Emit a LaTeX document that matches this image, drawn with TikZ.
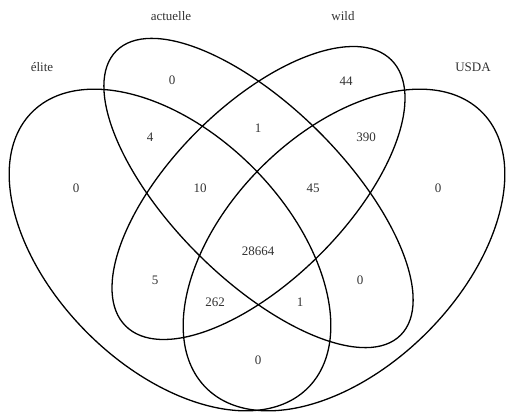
\documentclass[tikz,border=0pt]{standalone}
\usepackage{fontspec}
\setmainfont{Liberation Serif}
\begin{document}
\begin{tikzpicture}[x=1pt,y=1pt,
  venn/.style={draw=black,line width=1.3pt},
  lab/.style={font=\fontsize{13}{15}\selectfont,text=black!80,inner sep=0pt},
  num/.style={font=\fontsize{13}{15}\selectfont,text=black!80,inner sep=0pt}]
\useasboundingbox (0,0) rectangle (510,414);
% sets
\draw[venn,rotate around={-45:(170,164)}] (170,164) ellipse (195 and 117);
\draw[venn,rotate around={45:(344,164)}] (344,164) ellipse (195 and 117);
\draw[venn,rotate around={-45:(258.5,221)}] (258.5,221) ellipse (201 and 86);
\draw[venn,rotate around={45:(258.5,221)}] (258.5,221) ellipse (188 and 87);
% labels
\node[lab] (lelite) at (42,347) {élite};
\node[lab] (lact) at (171,398) {actuelle};
\node[lab] (lwild) at (343,398) {wild};
\node[lab] (lusda) at (473,347) {USDA};
% counts
\node[num] (n1) at (172,334) {0};
\node[num] (n2) at (346,333) {44};
\node[num] (n3) at (150,277) {4};
\node[num] (n4) at (258,286) {1};
\node[num] (n5) at (366,277) {390};
\node[num] (n6) at (76,226) {0};
\node[num] (n7) at (200,226) {10};
\node[num] (n8) at (313,226) {45};
\node[num] (n9) at (438,226) {0};
\node[num] (n10) at (258,163) {28664};
\node[num] (n11) at (155,134) {5};
\node[num] (n12) at (360,134) {0};
\node[num] (n13) at (215,112) {262};
\node[num] (n14) at (300,112) {1};
\node[num] (n15) at (258,54) {0};
\end{tikzpicture}
\end{document}
